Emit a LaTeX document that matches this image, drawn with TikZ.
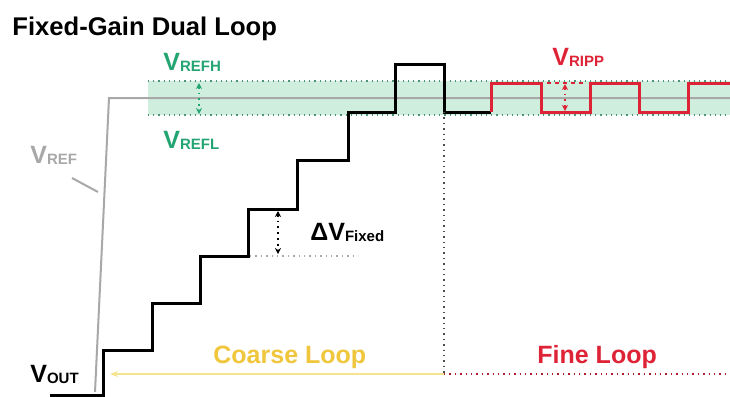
\documentclass[tikz,border=0pt]{standalone}
\usepackage{fontspec}
\setmainfont{Liberation Sans}
\usepackage{xcolor}
\usetikzlibrary{arrows.meta, positioning}
\definecolor{vgreen}{RGB}{35,165,115}
\definecolor{bandfill}{RGB}{208,238,222}
\definecolor{vred}{RGB}{222,35,55}
\definecolor{vgray}{RGB}{168,168,168}
\definecolor{vgold}{RGB}{240,198,60}
\definecolor{vpale}{RGB}{245,228,140}
\newcommand{\vsub}[2]{#1\raisebox{-0.6pt}{\fontsize{7.5}{8}\selectfont #2}}

\begin{document}
\begin{tikzpicture}[
        x=0.5pt, y=-0.5pt,
        lbl/.style={font=\bfseries\fontsize{12.5}{14}\selectfont, inner sep=0pt, anchor=base west},
        stair/.style={line width=1.5pt, black, line join=miter},
        ripple/.style={line width=1.5pt, vred, line join=miter},
        lim/.style={dotted, line width=0.6pt, vgreen!55!gray},
        tick/.style={{Stealth[length=3pt,width=3pt]}-{Stealth[length=3pt,width=3pt]}, dotted, line width=0.9pt},
      ]
        \useasboundingbox (0,0) rectangle (730,397);

        % Reference window
        \fill[bandfill] (148,81) rectangle (730,115);
        \draw[lim] (148,81) -- (730,81);
        \draw[lim] (148,115) -- (730,115);
        \draw[vgray, line width=1pt] (95,392) -- (109,98) -- (730,98);

        % Coarse steps and overshoot
        \draw[stair] (50,395) -- (103,395) -- (103,350) -- (152,350) -- (152,303)
          -- (200,303) -- (200,256) -- (248,256) -- (248,209) -- (297,209)
          -- (297,160) -- (348,160) -- (348,112) -- (395,112) -- (395,64)
          -- (444,64) -- (444,112) -- (491,112);

        % Fine ripple
        \draw[ripple] (491,112) -- (491,83) -- (541,83) -- (541,112) -- (590,112)
          -- (590,83) -- (639,83) -- (639,112) -- (688,112) -- (688,83) -- (730,83);

        % Labels
        \node[lbl] (title) at (12,35) {\fontsize{12.8}{15}\selectfont Fixed-Gain Dual Loop};
        \node[lbl, vgreen] (vrefh) at (163,70)  {\vsub{V}{REFH}};
        \node[lbl, vgreen] (vrefl) at (163,148) {\vsub{V}{REFL}};
        \node[lbl, vgray]  (vref)  at (30,163)  {\vsub{V}{REF}};
        \node[lbl, vred]   (vripp) at (552,65)  {\vsub{V}{RIPP}};
        \node[lbl]         (vout)  at (30,382)  {\vsub{V}{OUT}};
        \node[lbl]         (dvfix) at (310,240) {\vsub{ΔV}{Fixed}};
        \node[lbl, vgold]  (coarse) at (213,363) {Coarse Loop};
        \node[lbl, vred]   (fine)   at (537,363) {Fine Loop};

        % Window / ripple / step markers
        \draw[tick, vgreen] (199,83) -- (199,114);
        \draw[dashed, vred, line width=0.8pt, dash pattern=on 2pt off 2pt] (547,83) -- (586,83);
        \draw[tick, vred] (565,84) -- (565,111);
        \draw[dotted, vgray, line width=0.7pt] (250,256) -- (358,256);
        \draw[tick, black] (278,211) -- (278,254);

        % Pointer to V_REF
        \coordinate (refptr) at (72,178);
        \coordinate (reftip) at (98,192);
        \draw[vgray, line width=1pt] (refptr) -- (reftip);

        % Loop split
        \coordinate (split) at (444,374);
        \coordinate (cstart) at (110,374);
        \coordinate (fend) at (730,374);
        \draw[dotted, black!70, line width=0.7pt] (444,112) -- (split);
        \draw[-{Stealth[length=4pt,width=3pt]}, vpale, line width=0.7pt] (split) -- (cstart);
        \draw[dotted, vred!80!black, line width=0.7pt] (split) -- (fend);
      \end{tikzpicture}
\end{document}
